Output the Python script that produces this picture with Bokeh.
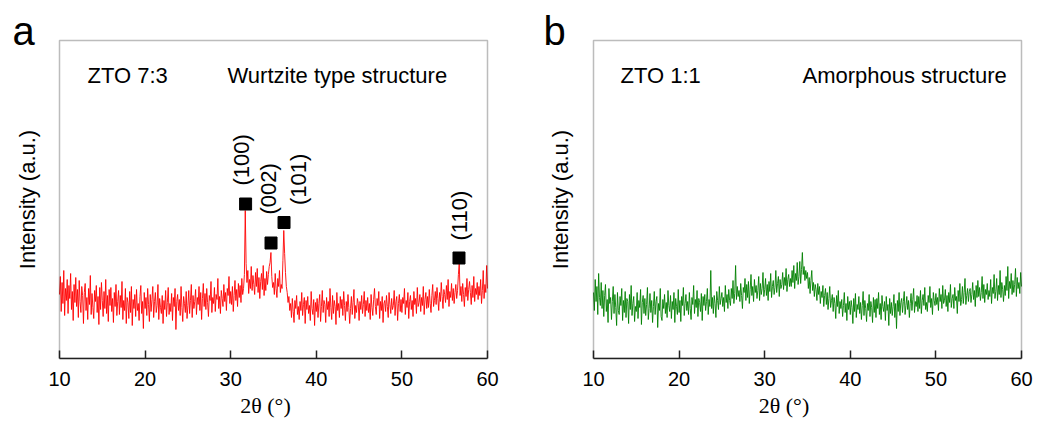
from math import pi
from bokeh.plotting import figure
from bokeh.layouts import row
from bokeh.models import Label, FixedTicker, Range1d, BoxAnnotation
from bokeh.embed import file_html
from bokeh.resources import INLINE

# ---------------- data ----------------
two_theta = [round(10 + 0.1 * i, 1) for i in range(501)]

zto73_intensity = [
    64, 82, 47, 76, 55, 88, 43, 70, 58, 79,
    45, 73, 60, 85, 49, 67, 38, 74, 56, 81,
    52, 69, 41, 78, 57, 46, 72, 63, 35, 66,
    75, 48, 61, 39, 70, 54, 83, 44, 65, 51,
    40, 68, 57, 73, 46, 62, 34, 71, 49, 76,
    58, 42, 67, 50, 79, 45, 63, 37, 69, 53,
    71, 47, 60, 36, 66, 52, 74, 43, 57, 68,
    44, 63, 51, 77, 39, 58, 48, 70, 35, 61,
    56, 40, 67, 46, 72, 33, 59, 50, 64, 42,
    69, 48, 55, 38, 62, 73, 45, 57, 30, 66,
    50, 61, 43, 70, 54, 37, 64, 47, 59, 72,
    41, 57, 66, 46, 53, 74, 39, 60, 51, 45,
    63, 35, 58, 49, 68, 42, 56, 71, 44, 55,
    47, 65, 38, 61, 52, 70, 29, 57, 64, 48,
    59, 43, 72, 51, 37, 62, 55, 46, 67, 40,
    53, 68, 45, 58, 74, 41, 63, 50, 57, 69,
    44, 61, 54, 72, 48, 66, 39, 60, 75, 52,
    65, 49, 70, 56, 42, 63, 58, 77, 46, 61,
    55, 71, 47, 64, 59, 80, 50, 62, 45, 68,
    60, 52, 74, 57, 66, 48, 70, 63, 82, 55,
    67, 54, 72, 47, 63, 78, 58, 69, 52, 75,
    61, 73, 56, 80, 64, 70, 84, 148, 95, 76,
    88, 65, 79, 70, 92, 68, 83, 74, 64, 86,
    72, 90, 66, 81, 60, 77, 85, 69, 93, 63,
    80, 68, 87, 74, 84, 92, 96, 106, 82, 71,
    76, 64, 85, 70, 61, 80, 72, 88, 66, 74,
    70, 98, 128, 105, 86, 72, 66, 56, 62, 48,
    55, 41, 60, 47, 36, 58, 50, 63, 44, 52,
    39, 57, 48, 66, 43, 54, 61, 35, 58, 49,
    62, 45, 53, 38, 67, 50, 44, 59, 33, 56,
    47, 60, 41, 55, 64, 37, 52, 68, 46, 58,
    54, 36, 61, 49, 57, 42, 70, 51, 39, 63,
    45, 58, 52, 34, 66, 48, 55, 41, 62, 50,
    59, 43, 67, 53, 38, 57, 47, 64, 51, 35,
    50, 62, 44, 56, 69, 40, 53, 46, 60, 55,
    38, 57, 49, 63, 45, 54, 67, 42, 58, 48,
    61, 46, 55, 39, 64, 51, 43, 59, 70, 52,
    44, 60, 53, 67, 40, 57, 48, 62, 36, 55,
    58, 47, 63, 52, 41, 66, 54, 45, 60, 49,
    53, 68, 43, 57, 62, 38, 55, 64, 47, 59,
    46, 61, 55, 70, 44, 58, 51, 66, 40, 57,
    63, 49, 58, 42, 67, 54, 60, 45, 71, 52,
    56, 64, 47, 61, 53, 72, 44, 59, 66, 50,
    62, 51, 69, 55, 46, 63, 74, 52, 58, 67,
    54, 71, 60, 48, 66, 57, 76, 62, 50, 69,
    64, 56, 73, 59, 79, 52, 67, 61, 75, 58,
    70, 55, 66, 74, 60, 68, 84, 96, 63, 72,
    57, 75, 64, 52, 71, 62, 80, 58, 69, 77,
    66, 54, 73, 61, 82, 57, 70, 64, 76, 59,
    72, 63, 79, 55, 68, 88, 60, 74, 66, 93,
    70,
]

zto11_intensity = [
    66, 48, 79, 57, 72, 44, 85, 61, 53, 76,
    50, 68, 42, 63, 74, 47, 59, 36, 70, 55,
    61, 39, 57, 72, 45, 64, 51, 33, 66, 48,
    44, 62, 53, 70, 38, 58, 46, 67, 41, 60,
    57, 35, 64, 49, 73, 43, 55, 62, 37, 52,
    47, 66, 40, 58, 51, 69, 34, 56, 63, 45,
    60, 43, 54, 71, 39, 50, 65, 46, 58, 36,
    52, 67, 44, 57, 62, 31, 55, 48, 70, 42,
    38, 59, 50, 64, 45, 56, 41, 68, 53, 47,
    63, 40, 57, 49, 66, 36, 60, 52, 44, 69,
    46, 58, 37, 62, 53, 71, 43, 55, 64, 48,
    57, 44, 66, 50, 39, 61, 54, 73, 45, 59,
    51, 68, 42, 60, 56, 47, 65, 38, 62, 53,
    64, 48, 57, 70, 44, 59, 52, 88, 50, 61,
    45, 63, 55, 41, 67, 58, 49, 72, 54, 60,
    66, 52, 61, 47, 73, 56, 64, 50, 69, 58,
    53, 70, 60, 78, 55, 65, 93, 59, 72, 62,
    68, 57, 75, 63, 50, 71, 66, 80, 58, 74,
    61, 77, 55, 69, 84, 63, 72, 57, 79, 66,
    73, 60, 68, 82, 58, 75, 64, 70, 86, 62,
    69, 80, 63, 74, 58, 77, 67, 85, 61, 72,
    78, 64, 71, 88, 66, 75, 82, 62, 79, 70,
    74, 86, 69, 81, 73, 90, 67, 79, 84, 72,
    80, 72, 88, 76, 93, 70, 85, 78, 96, 74,
    82, 97, 75, 89, 106, 84, 92, 78, 88, 80,
    86, 70, 81, 65, 78, 88, 68, 76, 62, 74,
    69, 58, 75, 64, 72, 55, 67, 61, 73, 52,
    63, 70, 54, 66, 49, 60, 72, 51, 58, 64,
    47, 61, 55, 40, 63, 52, 68, 45, 57, 50,
    59, 42, 53, 66, 46, 55, 38, 62, 49, 57,
    44, 58, 51, 35, 60, 47, 65, 41, 54, 49,
    62, 45, 56, 39, 53, 67, 43, 58, 50, 37,
    55, 48, 64, 42, 57, 51, 36, 61, 46, 59,
    41, 60, 50, 66, 44, 55, 39, 63, 52, 47,
    57, 38, 62, 48, 54, 33, 60, 45, 56, 43,
    52, 64, 41, 55, 30, 58, 47, 66, 43, 56,
    60, 46, 57, 67, 44, 53, 62, 49, 58, 41,
    55, 65, 48, 59, 70, 46, 57, 52, 63, 47,
    62, 50, 68, 45, 58, 64, 53, 71, 49, 56,
    47, 63, 56, 72, 51, 60, 44, 66, 58, 53,
    65, 54, 61, 48, 70, 57, 64, 50, 73, 55,
    58, 69, 52, 63, 47, 66, 56, 74, 51, 60,
    64, 50, 71, 58, 62, 45, 68, 57, 75, 53,
    59, 72, 55, 66, 80, 54, 63, 70, 57, 67,
    70, 56, 64, 76, 59, 68, 52, 73, 61, 78,
    62, 71, 58, 66, 82, 60, 74, 56, 69, 64,
    75, 59, 68, 62, 79, 55, 71, 65, 84, 60,
    67, 80, 58, 73, 64, 88, 61, 76, 69, 57,
    73, 63, 82, 68, 92, 60, 77, 70, 85, 64,
    78, 66, 74, 90, 62, 81, 70, 76, 65, 86,
    72,
]

peak_2theta = [31.74, 34.71, 36.23, 56.67]
peak_marker_y = [154.5, 115.5, 136.0, 100.5]
peak_labels = ["(100)", "(002)", "(101)", "(110)"]
x_ticks = [10, 20, 30, 40, 50, 60]
x_min, x_max = 10, 60
y_box_top = 318

SANS = "Liberation Sans"
SERIF = "'Liberation Serif', 'Times New Roman', serif"
PX_PER_DEG = 8.56


def make_panel(letter, sample, structure, intensity, color,
               left, right, width, sample_x, structure_x, letter_x, ylab_x):
    xr = Range1d(x_min - left / PX_PER_DEG, x_max + right / PX_PER_DEG)
    p = figure(width=width, height=425, output_backend="svg",
               toolbar_location=None, x_range=xr,
               y_range=Range1d(0, 358), y_axis_location=None,
               min_border_left=0, min_border_right=0,
               min_border_top=0, min_border_bottom=67)
    p.grid.visible = False
    p.background_fill_color = "white"
    p.border_fill_color = "white"
    p.outline_line_color = None

    ax = p.xaxis[0]
    ax.bounds = (x_min, x_max)
    ax.ticker = FixedTicker(ticks=x_ticks)
    ax.major_tick_in = 8
    ax.major_tick_out = 0
    ax.minor_tick_line_color = None
    ax.major_tick_line_width = 1.5
    ax.major_tick_line_color = "#222222"
    ax.axis_line_width = 1.5
    ax.axis_line_color = "#222222"
    ax.major_label_text_font = SANS
    ax.major_label_text_font_size = "20px"
    ax.major_label_text_color = "black"
    ax.major_label_standoff = 13
    ax.axis_label = "2θ (°)"
    ax.axis_label_text_font = SERIF
    ax.axis_label_text_font_size = "22px"
    ax.axis_label_text_font_style = "normal"
    ax.axis_label_text_color = "black"
    ax.axis_label_standoff = 4

    p.line(two_theta, intensity, line_color=color, line_width=0.9)

    p.add_layout(BoxAnnotation(left=x_min, right=x_max, bottom=0, top=y_box_top,
                               fill_alpha=0, line_color="#222222", line_width=1.5))

    p.add_layout(Label(x=letter_x, y=328, x_units="screen", y_units="screen",
                       text=letter, text_font=SANS, text_font_size="40px",
                       text_baseline="middle", text_color="black"))
    p.add_layout(Label(x=ylab_x, y=159, x_units="screen", y_units="screen",
                       text="Intensity (a.u.)", angle=pi / 2,
                       text_align="center", text_baseline="middle",
                       text_font=SANS, text_font_size="22px", text_color="black"))
    p.add_layout(Label(x=sample_x, y=283, x_units="screen", y_units="screen",
                       text=sample, text_font=SANS, text_font_size="22px",
                       text_baseline="middle", text_color="black"))
    p.add_layout(Label(x=structure_x, y=283, x_units="screen", y_units="screen",
                       text=structure, text_font=SANS, text_font_size="22px",
                       text_baseline="middle", text_color="black"))
    return p


pa = make_panel("a", "ZTO 7:3", "Wurtzite type structure", zto73_intensity,
                "#ff0000", 59, 43, 530, 87, 227, 12, 27)
pb = make_panel("b", "ZTO 1:1", "Amorphous structure", zto11_intensity,
                "#008000", 63, 16, 507, 90, 272, 13, 30)

# peak markers and rotated hkl labels on panel a
pa.scatter(peak_2theta, peak_marker_y, marker="square", size=12,
           fill_color="black", line_color="black")
label_dx = [-4.5, -2.5, 14, 0.5]
label_dy = [18.5, 28.5, 17.5, 17.5]
for xv, yv, t, dx, dy in zip(peak_2theta, peak_marker_y, peak_labels, label_dx, label_dy):
    pa.add_layout(Label(x=xv, y=yv, x_offset=dx, y_offset=dy, text=t,
                        angle=pi / 2, text_align="left", text_baseline="middle",
                        text_font=SANS, text_font_size="22px", text_color="black"))

layout = row(pa, pb)
open("out.html", "w").write(file_html(layout, INLINE))
